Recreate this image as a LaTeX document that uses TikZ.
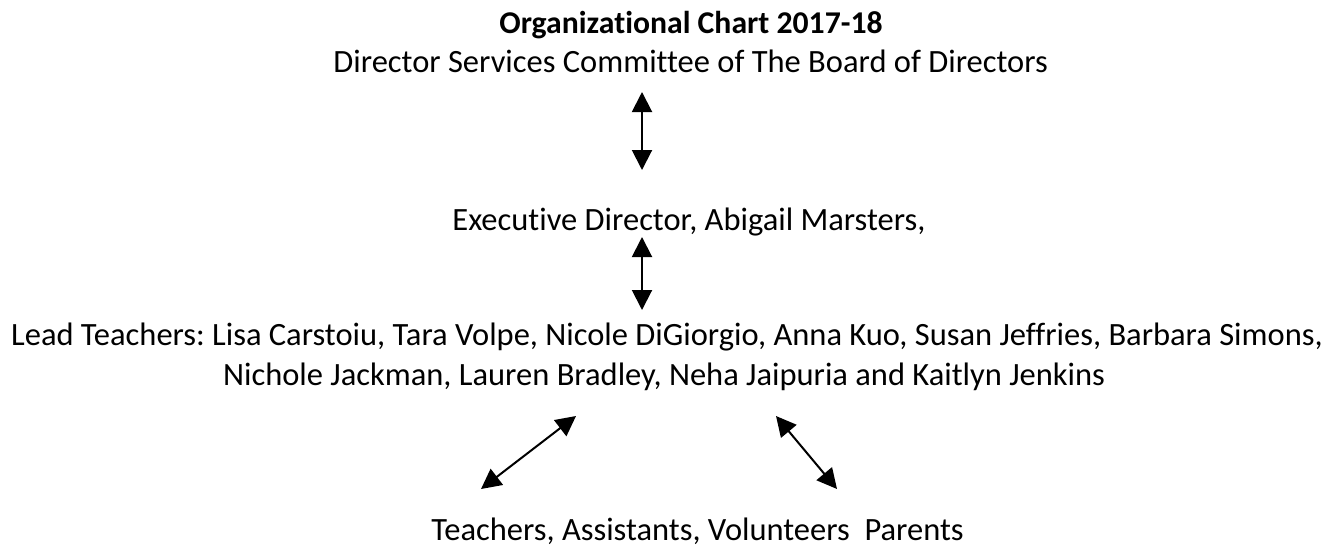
\documentclass[tikz,border=0pt]{standalone}
\usepackage{fontspec}
\setmainfont{Carlito}[Ligatures=NoCommon]
\frenchspacing
\usetikzlibrary{arrows.meta}
\begin{document}
\begin{tikzpicture}[x=0.5pt,y=-0.5pt,
  lbl/.style={font=\fontsize{16.25pt}{20pt}\selectfont, inner sep=0pt, anchor=base west},
  dbl/.style={line width=1pt, {Triangle[width=10pt,length=10pt]}-{Triangle[width=10pt,length=10pt]}}]
\useasboundingbox (0,0) rectangle (1326,547);
\node[lbl, font=\fontsize{15.85pt}{20pt}\selectfont\bfseries] (title) at (499,33) {Organizational Chart 2017-18};
\node[lbl] (dsc) at (333,72) {Director Services Committee of The Board of Directors};
\node[lbl] (exec) at (452,230) {Executive Director, Abigail Marsters,};
\node[lbl, anchor=base] (lead1) at (667,345) {Lead Teachers: Lisa Carstoiu, Tara Volpe, Nicole DiGiorgio, Anna Kuo, Susan Jeffries, Barbara Simons,};
\node[lbl, anchor=base] (lead2) at (664,385) {Nichole Jackman, Lauren Bradley, Neha Jaipuria and Kaitlyn Jenkins};
\node[lbl] (tea) at (431,540) {Teachers, Assistants, Volunteers\ \ Parents};
\coordinate (a1) at (642,92);
\coordinate (a2) at (642,170);
\coordinate (b1) at (642,237);
\coordinate (b2) at (642,310);
\coordinate (c1) at (481,489);
\coordinate (c2) at (576,416);
\coordinate (d1) at (776,416);
\coordinate (d2) at (837,489);
\draw[dbl] (a1) -- (a2);
\draw[dbl] (b1) -- (b2);
\draw[dbl] (c1) -- (c2);
\draw[dbl] (d1) -- (d2);
\end{tikzpicture}
\end{document}
